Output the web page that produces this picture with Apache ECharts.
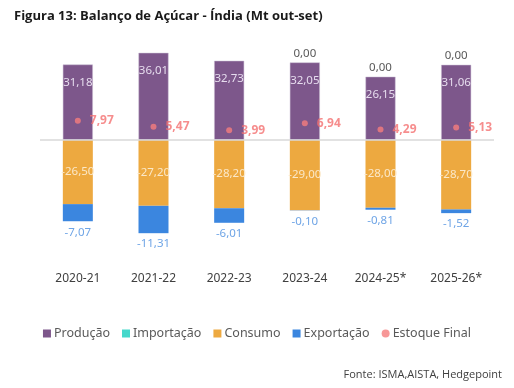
<!DOCTYPE html>
<html><head><meta charset="utf-8">
<script src="https://cdn.jsdelivr.net/npm/echarts@6/dist/echarts.min.js"></script>
<style>html,body{margin:0;padding:0;background:#fff}#c{width:514px;height:388px}</style>
</head><body><div id="c"></div>
<script>
const categories = ['2020-21','2021-22','2022-23','2023-24','2024-25*','2025-26*'];
const producao = [31.18, 36.01, 32.73, 32.05, 26.15, 31.06];
const importacao = [null, null, null, 0.00, 0.00, 0.00];
const consumo = [-26.50, -27.20, -28.20, -29.00, -28.00, -28.70];
const exportacao = [-7.07, -11.31, -6.01, -0.10, -0.81, -1.52];
const estoqueFinal = [7.97, 5.47, 3.99, 6.94, 4.29, 5.13];

const fmt = v => v.toFixed(2).replace('.', ',');
const FONT = 'Noto Sans';
const chart = echarts.init(document.getElementById('c'));
chart.setOption({
  animation: false,
  textStyle: { fontFamily: FONT },
  title: [{
    text: 'Figura 13: Balanço de Açúcar - Índia (Mt out-set)',
    left: 9, top: 5,
    textStyle: { fontFamily: 'Open Sans', fontWeight: 'bold', fontSize: 13, color: '#1a1a1a' }
  }, {
    text: 'Fonte: ISMA,AISTA, Hedgepoint',
    right: 7, top: 364,
    textStyle: { fontFamily: 'Open Sans', fontWeight: 'normal', fontSize: 11, color: '#404040' }
  }],
  legend: {
    top: 322, left: 'center',
    itemWidth: 8, itemHeight: 8, itemGap: 12,
    itemStyle: { borderWidth: 0 },
    textStyle: { fontFamily: FONT, fontSize: 12.5, color: '#595959', padding: [0, 0, 0, -2] },
    data: [
      { name: 'Produção', icon: 'rect' },
      { name: 'Importação', icon: 'rect' },
      { name: 'Consumo', icon: 'rect' },
      { name: 'Exportação', icon: 'rect' },
      { name: 'Estoque Final', icon: 'circle' }
    ]
  },
  grid: { left: 40, right: 20, top: 43.2, height: 217.8 },
  xAxis: {
    type: 'category', data: categories,
    axisLine: { show: false, onZero: false }, axisTick: { show: false },
    axisLabel: { color: '#404040', fontSize: 12, margin: 12, fontFamily: FONT }
  },
  yAxis: {
    type: 'value', min: -50, max: 40, show: false
  },
  series: [
    {
      name: 'Produção', type: 'bar', stack: 's', data: producao, barWidth: 30,
      itemStyle: { color: '#7d578b', borderColor: '#c9bcd3', borderWidth: 0.5 },
      label: { show: true, position: 'insideTop', distance: 12, formatter: p => fmt(p.value),
        color: '#e6dcee', fontSize: 11.5, fontFamily: FONT },
      markLine: {
        silent: true, symbol: 'none', label: { show: false },
        lineStyle: { color: '#d9d9d9', width: 1.5, type: 'solid' },
        data: [{ yAxis: 0 }]
      }
    },
    {
      name: 'Importação', type: 'bar', stack: 's', data: importacao, barWidth: 30,
      itemStyle: { color: '#45d8cb' },
      label: { show: true, position: 'top', distance: 3, formatter: p => fmt(p.value),
        color: '#595959', fontSize: 11.5, fontFamily: FONT }
    },
    {
      name: 'Consumo', type: 'bar', stack: 's', data: consumo, barWidth: 30,
      itemStyle: { color: '#eda940' },
      label: { show: true, position: 'inside', formatter: p => fmt(p.value),
        color: '#fbe8c8', fontSize: 11.5, fontFamily: FONT }
    },
    {
      name: 'Exportação', type: 'bar', stack: 's', data: exportacao, barWidth: 30,
      itemStyle: { color: '#3b86df' },
      label: { show: true, position: 'bottom', distance: 5, formatter: p => fmt(p.value),
        color: '#6fa5e6', fontSize: 11.5, fontFamily: FONT }
    },
    {
      name: 'Estoque Final', type: 'scatter', data: estoqueFinal, symbolSize: 6,
      itemStyle: { color: '#f57d7d' }, z: 5,
      label: { show: true, position: 'right', distance: 9, formatter: p => fmt(p.value),
        color: '#f47070', fontSize: 12, fontWeight: 'bold', fontFamily: FONT }
    }
  ]
});
</script></body></html>
